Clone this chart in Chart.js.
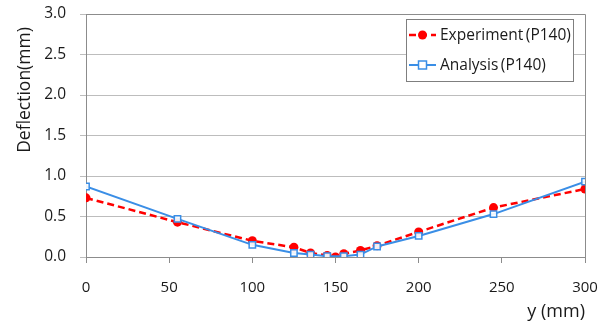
<!DOCTYPE html>
<html>
<head>
<meta charset="utf-8">
<script src="https://cdn.jsdelivr.net/npm/chart.js@4/dist/chart.umd.min.js"></script>
<style>
html,body{margin:0;padding:0;background:#fff;}
#wrap{width:614px;height:323px;position:relative;}
</style>
</head>
<body>
<div id="wrap"><canvas id="c" width="614" height="323"></canvas></div>
<script>
const expX = [0, 55, 100, 125, 135, 145, 150, 155, 165, 175, 200, 245, 300];
const expY = [0.73, 0.43, 0.20, 0.12, 0.05, 0.02, 0.00, 0.04, 0.08, 0.14, 0.31, 0.61, 0.84];
const anaX = [0, 55, 100, 125, 135, 145, 155, 165, 175, 200, 245, 300];
const anaY = [0.87, 0.47, 0.15, 0.05, 0.03, 0.01, 0.01, 0.03, 0.13, 0.26, 0.53, 0.93];
const seriesNames = ['Experiment\u2009(P140)', 'Analysis\u2009(P140)'];
const xTitle = 'y (mm)';
const yTitle = 'Deflection(mm)';

const RED = '#ff0000';
const BLUE = '#3a8ee6';
const FONT = '"Open Sans", sans-serif';
const TEXT = '#1a1a1a';

function pts(xs, ys){ return xs.map((x,i)=>({x:x, y:ys[i]})); }

const legendPlugin = {
  id: 'customLegend',
  afterDraw(chart){
    const ctx = chart.ctx;
    const ca = chart.chartArea;
    const bx = ca.right - 179, by = ca.top + 5, bw = 167, bh = 62;
    ctx.save();
    ctx.fillStyle = '#fff';
    ctx.fillRect(bx, by, bw, bh);
    ctx.strokeStyle = '#7f7f7f';
    ctx.lineWidth = 1;
    ctx.strokeRect(bx+0.5, by+0.5, bw, bh);
    const ds = chart.data.datasets;
    ds.forEach((d, i) => {
      const cy = by + 16 + i*30;
      const x0 = bx + 3, x1 = bx + 30, xm = (x0+x1)/2;
      ctx.strokeStyle = d.borderColor;
      ctx.lineWidth = d.borderWidth;
      ctx.setLineDash(d.borderDash || []);
      ctx.beginPath(); ctx.moveTo(x0, cy); ctx.lineTo(x1, cy); ctx.stroke();
      ctx.setLineDash([]);
      if (d.pointStyle === 'circle'){
        ctx.fillStyle = d.pointBackgroundColor;
        ctx.beginPath(); ctx.arc(xm, cy, 4.5, 0, Math.PI*2); ctx.fill();
      } else {
        ctx.fillStyle = '#fff';
        ctx.strokeStyle = d.pointBorderColor;
        ctx.lineWidth = 1.5;
        ctx.fillRect(xm-4, cy-4, 8, 8);
        ctx.strokeRect(xm-4, cy-4, 8, 8);
      }
      ctx.fillStyle = TEXT;
      ctx.font = '15.5px ' + FONT;
      ctx.textBaseline = 'middle';
      ctx.textAlign = 'left';
      ctx.fillText(d.label, x1 + 4, cy + 1);
    });
    ctx.restore();
  }
};

const framePlugin = {
  id: 'frameAndTitles',
  beforeDatasetsDraw(chart){
    const ctx = chart.ctx, ca = chart.chartArea;
    ctx.save();
    ctx.strokeStyle = '#8c8c8c';
    ctx.lineWidth = 1;
    const r = Math.round(ca.right)+0.5, t = Math.round(ca.top)+0.5;
    ctx.beginPath();
    ctx.moveTo(ca.left, t);
    ctx.lineTo(r, t);
    ctx.lineTo(r, ca.bottom);
    ctx.stroke();
    ctx.restore();
  },
  afterDraw(chart){
    const ctx = chart.ctx, ca = chart.chartArea;
    ctx.save();
    ctx.fillStyle = TEXT;
    ctx.font = '17.5px ' + FONT;
    ctx.translate(ca.left - 61, ca.top + 76);
    ctx.rotate(-Math.PI/2);
    ctx.textAlign = 'center';
    ctx.textBaseline = 'middle';
    ctx.fillText(yTitle, 0, 0);
    ctx.restore();
  }
};

new Chart(document.getElementById('c'), {
  type: 'line',
  data: {
    datasets: [
      {
        label: seriesNames[0],
        data: pts(expX, expY),
        borderColor: RED,
        backgroundColor: RED,
        borderWidth: 2.5,
        borderDash: [7, 4],
        pointStyle: 'circle',
        pointRadius: 4.5,
        pointBackgroundColor: RED,
        pointBorderColor: RED,
        pointBorderWidth: 0,
        tension: 0,
        order: 2
      },
      {
        label: seriesNames[1],
        data: pts(anaX, anaY),
        borderColor: BLUE,
        backgroundColor: '#fff',
        borderWidth: 2,
        pointStyle: 'rect',
        pointRadius: 4.5,
        pointBackgroundColor: 'rgba(255,255,255,0.9)',
        pointBorderColor: BLUE,
        pointBorderWidth: 1.5,
        tension: 0,
        order: 1
      }
    ]
  },
  options: {
    responsive: false,
    animation: false,
    devicePixelRatio: 1,
    layout: { padding: { left: 0, right: 29, top: 14, bottom: 0 } },
    plugins: {
      legend: { display: false },
      tooltip: { enabled: false }
    },
    scales: {
      x: {
        type: 'linear',
        min: 0, max: 300,
        ticks: { stepSize: 50, font: { family: FONT, size: 15 }, color: TEXT, padding: 16, maxRotation: 0 },
        grid: { display: true, drawOnChartArea: false, drawTicks: true, tickLength: 6, color: '#8c8c8c' },
        border: { display: true, color: '#8c8c8c' },
        title: { display: true, text: xTitle, align: 'end', font: { family: FONT, size: 18 }, color: TEXT, padding: { top: 0, bottom: 0 } },
        afterFit(s){ s.height = 66; s.paddingLeft = 0; s.paddingRight = 0; }
      },
      y: {
        min: 0, max: 3,
        ticks: { stepSize: 0.5, font: { family: FONT, size: 15.5 }, color: TEXT, padding: 14,
                 callback: v => Number(v).toFixed(1) },
        grid: { color: '#bdbdbd', drawTicks: true, tickLength: 6 },
        border: { display: true, color: '#8c8c8c' },
        title: { display: false },
        afterFit(s){ s.width = 86; s.paddingTop = 0; s.paddingBottom = 0; }
      }
    }
  },
  plugins: [framePlugin, legendPlugin]
});
</script>
</body>
</html>
